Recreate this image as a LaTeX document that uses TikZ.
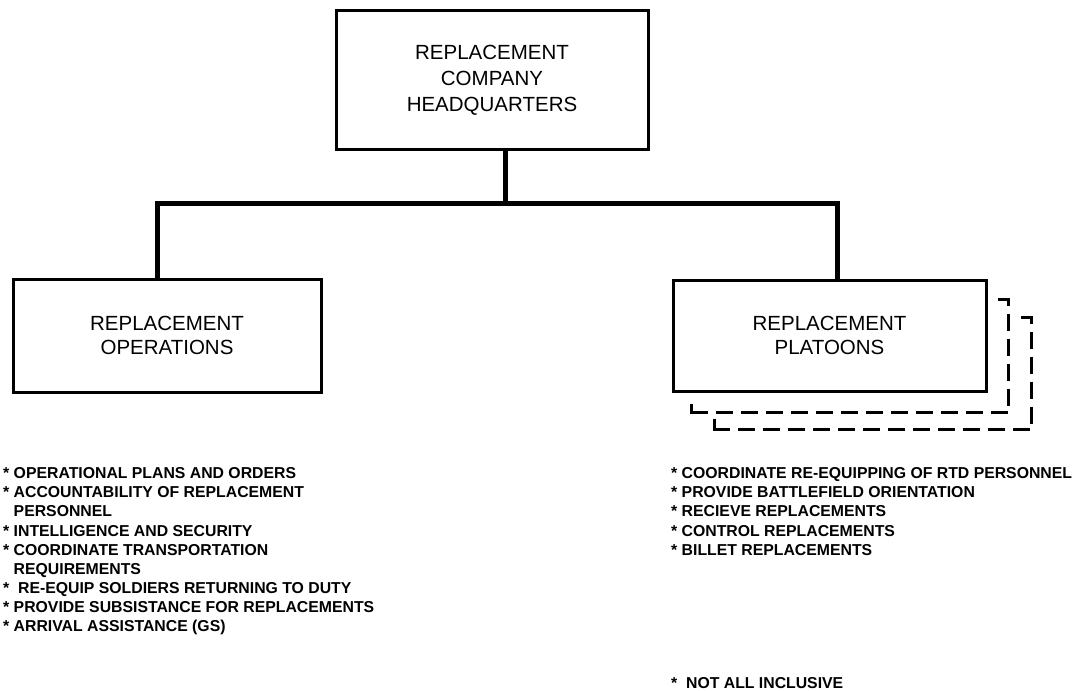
\documentclass[tikz,border=0pt]{standalone}
\usepackage{fontspec}
\setmainfont{Liberation Sans}
\usetikzlibrary{calc}
\begin{document}
\begin{tikzpicture}[x=1pt,y=-1pt,
  unit/.style={draw,line width=3pt,inner sep=0pt,align=center,
    font=\fontsize{20.5}{24}\selectfont},
  conn/.style={line width=5pt,line join=miter,line cap=butt},
  shadowline/.style={line width=3pt,dash pattern=on 17pt off 8pt,line join=miter},
  shadowcorner/.style={line width=3pt,line join=miter},
  tasks/.style={inner sep=0pt,align=left,anchor=north west,
    font=\fontsize{15.8}{19.1}\selectfont\bfseries}]
\useasboundingbox (0,0) rectangle (1075,690);

% organisation boxes
\node[unit,minimum width=312pt,minimum height=138pt,
  font=\fontsize{20.5}{26}\selectfont] (hq) at (492,80)
  {REPLACEMENT\\COMPANY\\HEADQUARTERS};
\node[unit,minimum width=308pt,minimum height=113pt] (ops) at (167,335.5)
  {REPLACEMENT\\OPERATIONS};
\node[unit,minimum width=313pt,minimum height=111pt] (plt) at (829.5,335.5)
  {REPLACEMENT\\PLATOONS};

% stacked platoon outlines behind the platoon box
\draw[shadowline] ($(plt.north east)+(10,21)$) -- ++(11,0)
  -- ($(plt.south east)+(21,20)$) -- ($(plt.south west)+(20,20)$);
\draw[shadowcorner] ($(plt.south west)+(20,11)$) -- ++(0,9) -- ++(9,0);
\draw[shadowline] ($(plt.north east)+(33,39)$) -- ++(11,0)
  -- ($(plt.south east)+(44,37)$) -- ($(plt.south west)+(43,37)$);
\draw[shadowcorner] ($(plt.south west)+(43,26)$) -- ++(0,11) -- ++(9,0);

% branch lines
\coordinate (j) at (505,203);
\coordinate (jl) at (157,203);
\coordinate (jr) at (837,203);
\draw[conn] (j |- hq.south) -- (j);
\draw[conn] (jl |- ops.north) -- (jl) -- (jr) -- (jr |- plt.north);

% task lists
\node[tasks] (opstasks) at (3,467.5)
  {* OPERATIONAL PLANS AND ORDERS\\
   * ACCOUNTABILITY OF REPLACEMENT\\
   \phantom{* }PERSONNEL\\
   * INTELLIGENCE AND SECURITY\\
   * COORDINATE TRANSPORTATION\\
   \phantom{* }REQUIREMENTS\\
   * \ RE-EQUIP SOLDIERS RETURNING TO DUTY\\
   * PROVIDE SUBSISTANCE FOR REPLACEMENTS\\
   * ARRIVAL ASSISTANCE (GS)};
\node[tasks] (plttasks) at (671,467.5)
  {* COORDINATE RE-EQUIPPING OF RTD PERSONNEL\\
   * PROVIDE BATTLEFIELD ORIENTATION\\
   * RECIEVE REPLACEMENTS\\
   * CONTROL REPLACEMENTS\\
   * BILLET REPLACEMENTS};
\node[tasks] (note) at (671,677.5) {* \ NOT ALL INCLUSIVE};
\end{tikzpicture}
\end{document}
